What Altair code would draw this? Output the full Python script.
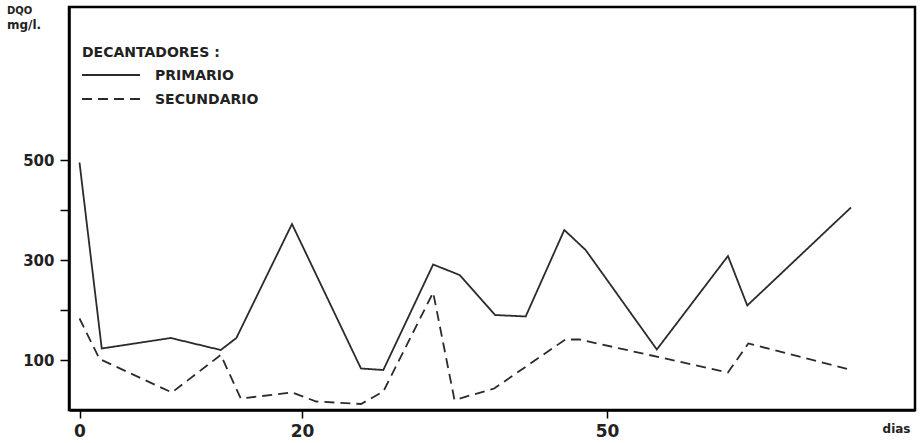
import altair as alt
import pandas as pd

# ---- data ----
prim_days = [0, 2, 8.2, 12.7, 14.1, 19.1, 25.8, 28, 32.9, 35.5, 39, 42, 45.8, 47.9, 54.9, 61.9, 63.8, 74]
prim_vals = [495, 123, 144, 120, 144, 372, 83, 80, 291, 270, 190, 187, 360, 320, 121, 308, 209, 405]

sec_days = [0, 1.8, 8.3, 12.7, 14.5, 19.1, 21.4, 25.8, 28, 32.9, 35, 38.9, 45.9, 47.3, 61.9, 63.9, 74]
sec_vals = [183, 102, 35, 110, 23, 35, 17, 12, 37, 235, 20, 43, 141, 141, 75, 133, 80]

series_names = ["PRIMARIO", "SECUNDARIO"]
x_ticks = [0, 20, 50]
y_ticks = [100, 200, 300, 400, 500]

df = pd.concat([
    pd.DataFrame({"dia": prim_days, "dqo": prim_vals, "serie": series_names[0]}),
    pd.DataFrame({"dia": sec_days, "dqo": sec_vals, "serie": series_names[1]}),
])
one = pd.DataFrame({"k": [0]})  # single row for annotation marks

W, H = 846, 403
FONT = "DejaVu Sans"
INK = "#222222"

# hand-drawn axis: piecewise linear day scale
xscale = alt.Scale(domain=[-0.94, 0, 20, 50, 80.3], range=[0, 10.5, 233, 538, W], nice=False, zero=False)
yscale = alt.Scale(domain=[0, 806], nice=False, zero=False)

lines = alt.Chart(df).mark_line(color="#2b2b2b", strokeWidth=1.8).encode(
    x=alt.X("dia:Q", scale=xscale,
            axis=alt.Axis(values=x_ticks, title="dias", titleX=W - 5, titleY=22,
                          titleAlign="right", titleBaseline="alphabetic",
                          titleFontSize=12, titleFont=FONT, titleFontWeight="bold",
                          titleColor=INK, tickSize=8, labelPadding=5,
                          labelFontSize=17, labelFont=FONT, labelFontWeight="bold",
                          labelColor=INK, labelFlush=False)),
    y=alt.Y("dqo:Q", scale=yscale,
            axis=alt.Axis(values=y_ticks, title=None, tickSize=9, labelPadding=6,
                          labelExpr="datum.value % 200 == 100 ? datum.label : ''",
                          labelFontSize=15, labelFont=FONT, labelFontWeight="bold",
                          labelColor=INK)),
    strokeDash=alt.StrokeDash("serie:N",
                              scale=alt.Scale(domain=series_names, range=[[1, 0], [10, 6]]),
                              legend=None),
)

# manual legend (as drawn in the figure)
leg_solid = alt.Chart(one).mark_rule(color="#2b2b2b", strokeWidth=1.8).encode(
    x=alt.value(13), x2=alt.value(71), y=alt.value(68))
leg_dash = alt.Chart(one).mark_rule(color="#2b2b2b", strokeWidth=1.8, strokeDash=[10, 6]).encode(
    x=alt.value(13), x2=alt.value(71), y=alt.value(92))


def label(txt, x, y, size, anchor="left"):
    return alt.Chart(one).mark_text(text=txt, font=FONT, fontWeight="bold", fontSize=size,
                                    color=INK, align=anchor, baseline="alphabetic").encode(
        x=alt.value(x), y=alt.value(y))


leg_title = label("DECANTADORES :", 13, 50, 14)
leg_p = label(series_names[0], 86, 73, 14)
leg_s = label(series_names[1], 86, 97, 14)
ytitle1 = label("DQO", -62, 7, 10)
ytitle2 = label("mg/l.", -62, 22, 12)

chart = alt.layer(lines, leg_solid, leg_dash, leg_title, leg_p, leg_s, ytitle1, ytitle2).properties(
    width=W, height=H,
    autosize=alt.AutoSizeParams(type="none"),
    padding={"left": 69, "top": 7, "right": 6, "bottom": 33},
    background="white",
).configure_view(
    stroke="black", strokeWidth=2.5
).configure_axis(
    grid=False, domainColor="black", domainWidth=2.5, tickColor="black", tickWidth=1.5
)

chart.save("out.html", embed_options={"renderer": "svg", "actions": False})
